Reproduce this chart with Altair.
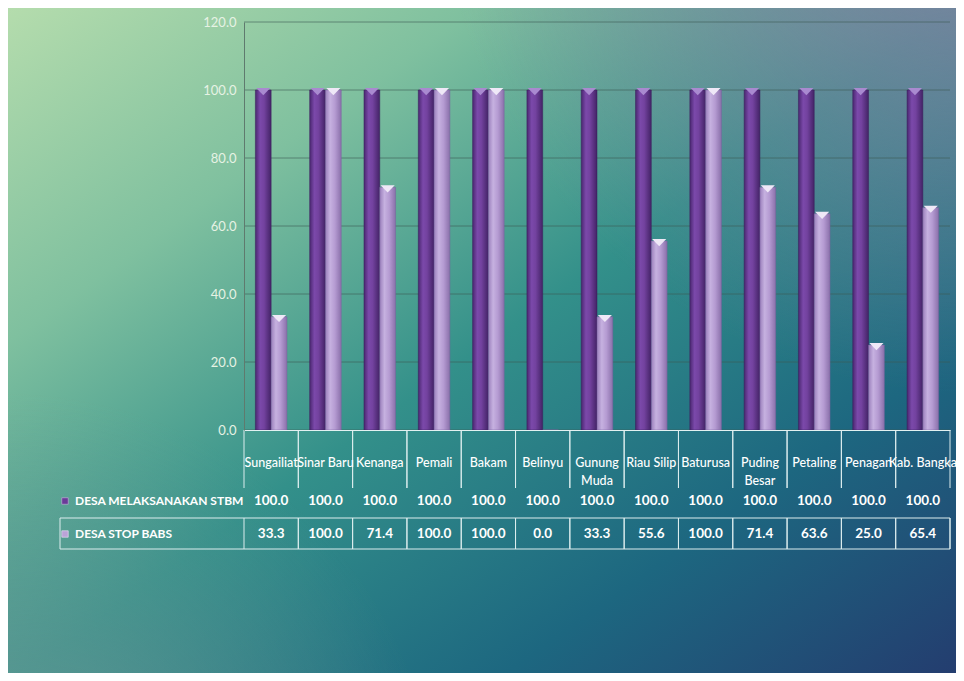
import altair as alt
import pandas as pd

categories = ["Sungailiat", "Sinar Baru", "Kenanga", "Pemali", "Bakam", "Belinyu",
              "Gunung Muda", "Riau Silip", "Baturusa", "Puding Besar", "Petaling",
              "Penagan", "Kab. Bangka"]
cat_labels = ["Sungailiat", "Sinar Baru", "Kenanga", "Pemali", "Bakam", "Belinyu",
              "Gunung\nMuda", "Riau Silip", "Baturusa", "Puding\nBesar", "Petaling",
              "Penagan", "Kab. Bangka"]
series = ["DESA MELAKSANAKAN STBM", "DESA STOP  BABS"]
stbm = [100.0, 100.0, 100.0, 100.0, 100.0, 100.0, 100.0, 100.0, 100.0, 100.0, 100.0, 100.0, 100.0]
stop_babs = [33.3, 100.0, 71.4, 100.0, 100.0, 0.0, 33.3, 55.6, 100.0, 71.4, 63.6, 25.0, 65.4]
y_ticks = [0, 20, 40, 60, 80, 100, 120]

rows = []
for i, c in enumerate(categories):
    rows.append({"cat": c, "label": cat_labels[i], "series": series[0], "value": stbm[i]})
    rows.append({"cat": c, "label": cat_labels[i], "series": series[1], "value": stop_babs[i]})
df = pd.DataFrame(rows)
ser_df = pd.DataFrame({"series": series})
grid_df = pd.DataFrame({"value": y_ticks})
one = pd.DataFrame({"k": [0]})

W, H = 706, 408
xscale = alt.Scale(domain=categories, paddingInner=0, paddingOuter=0)
xaxis = alt.Axis(labels=False, ticks=False, title=None, grid=False, domain=True,
                 domainColor="#e2f1f1", domainWidth=1.2, zindex=1)


def xe(bp=None):
    if bp is None:
        return alt.X("cat:N", scale=xscale, axis=xaxis)
    return alt.X("cat:N", scale=xscale, axis=xaxis, bandPosition=bp)


xoff = alt.XOffset("series:N", scale=alt.Scale(domain=series, paddingInner=0, paddingOuter=0.72))
yscale = alt.Scale(domain=[0, 120])
y_enc = alt.Y("value:Q", scale=yscale, title=None,
              axis=alt.Axis(values=y_ticks, format=".1f", title=None, grid=False, ticks=False,
                            domain=True, domainColor="#5f7a6e", labelColor="#e6f2e4",
                            labelFontSize=13, labelPadding=8, zindex=1))


def stops(lst):
    return [alt.GradientStop(offset=o, color=c) for o, c in lst]


bg_grad = alt.LinearGradient(gradient="linear", x1=0, y1=0, x2=1, y2=1, stops=stops([
    (0.0, "#b6ddad"), (0.25, "#7fc09f"), (0.5, "#33908a"), (0.75, "#1d6780"), (1.0, "#243a6e")]))
tr_grad = alt.RadialGradient(gradient="radial", x1=1, y1=0, r1=0, x2=1, y2=0, r2=0.55, stops=stops([
    (0.0, "rgba(140,128,165,0.95)"), (1.0, "rgba(140,128,165,0)")]))
bl_grad = alt.RadialGradient(gradient="radial", x1=0, y1=1, r1=0, x2=0, y2=1, r2=0.45, stops=stops([
    (0.0, "rgba(115,155,150,0.8)"), (1.0, "rgba(115,155,150,0)")]))

bg_enc = dict(x=alt.value(-240), x2=alt.value(725), y=alt.value(-20), y2=alt.value(665))
bg = alt.Chart(one).mark_rect(fill=bg_grad, strokeWidth=0).encode(**bg_enc)
bg2 = alt.Chart(one).mark_rect(fill=tr_grad, strokeWidth=0).encode(**bg_enc)
bg3 = alt.Chart(one).mark_rect(fill=bl_grad, strokeWidth=0).encode(**bg_enc)

grid = alt.Chart(grid_df).mark_rule(color="#3d5c55", opacity=0.6, strokeWidth=1).encode(
    y=alt.Y("value:Q", scale=yscale, title=None), x=alt.value(0), x2=alt.value(W))

dark_grad = alt.LinearGradient(gradient="linear", x1=0, y1=0, x2=1, y2=0, stops=stops([
    (0.0, "#4a2770"), (0.3, "#7b49aa"), (0.55, "#73429f"), (1.0, "#432366")]))
light_grad = alt.LinearGradient(gradient="linear", x1=0, y1=0, x2=1, y2=0, stops=stops([
    (0.0, "#9b80bc"), (0.3, "#c6b1e0"), (0.6, "#b59bd2"), (1.0, "#8a70aa")]))

s1 = alt.datum.series == series[0]
s2 = alt.datum.series == series[1]

bar1 = alt.Chart(df).transform_filter(s1).mark_bar(fill=dark_grad, stroke="#3a1e5c", strokeWidth=0.5).encode(
    x=xe(), xOffset=xoff, y=y_enc)
bar2 = alt.Chart(df).transform_filter(s2).mark_bar(fill=light_grad, stroke="#7a62a0", strokeWidth=0.5).encode(
    x=xe(), xOffset=xoff, y=alt.Y("value:Q", scale=yscale, title=None))

cap_shape = "M-1,-0.55L1,-0.55L0,0.45Z"
cap1 = alt.Chart(df).transform_filter(s1).mark_point(
    shape=cap_shape, filled=True, size=200, fill="#a98ad0", opacity=1, strokeWidth=0, yOffset=2).encode(
    x=xe(), xOffset=xoff, y=alt.Y("value:Q", scale=yscale, title=None))
cap2 = alt.Chart(df).transform_filter(s2).transform_filter(alt.datum.value > 0).mark_point(
    shape=cap_shape, filled=True, size=200, fill="#efe8f7", opacity=1, strokeWidth=0, yOffset=2).encode(
    x=xe(), xOffset=xoff, y=alt.Y("value:Q", scale=yscale, title=None))

line_col = "#dcedee"
hdr_l = alt.Chart(df).transform_filter(s1).mark_rule(color=line_col, strokeWidth=1).encode(
    x=xe(0), y=alt.value(408), y2=alt.value(466))
hdr_r = alt.Chart(df).transform_filter(s1).mark_rule(color=line_col, strokeWidth=1).encode(
    x=xe(1), y=alt.value(408), y2=alt.value(466))
hdr_txt = alt.Chart(df).transform_filter(s1).mark_text(
    lineBreak="\n", color="white", fontSize=12.5, lineHeight=18, baseline="middle", fontWeight=500).encode(
    x=xe(), y=alt.value(441), text="label:N")

row1_txt = alt.Chart(df).transform_filter(s1).mark_text(
    color="white", fontSize=13.5, fontWeight="bold", baseline="middle").encode(
    x=xe(), y=alt.value(479), text=alt.Text("value:Q", format=".1f"))
row2_txt = alt.Chart(df).transform_filter(s2).mark_text(
    color="white", fontSize=13.5, fontWeight="bold", baseline="middle").encode(
    x=xe(), y=alt.value(512), text=alt.Text("value:Q", format=".1f"))

row2_l = alt.Chart(df).transform_filter(s2).mark_rule(color=line_col, strokeWidth=1).encode(
    x=xe(0), y=alt.value(496), y2=alt.value(527))
row2_r = alt.Chart(df).transform_filter(s2).mark_rule(color=line_col, strokeWidth=1).encode(
    x=xe(1), y=alt.value(496), y2=alt.value(527))
row2_box = alt.Chart(one).mark_rect(fill="transparent", stroke=line_col, strokeWidth=1).encode(
    x=alt.value(-184), x2=alt.value(W), y=alt.value(496), y2=alt.value(527))

leg1_m = alt.Chart(ser_df).transform_filter(s1).mark_point(
    shape="square", filled=True, size=42, fill="#6a3b98", stroke="#c9b8e0", strokeWidth=0.6, opacity=1).encode(
    x=alt.value(-179), y=alt.value(479))
leg2_m = alt.Chart(ser_df).transform_filter(s2).mark_point(
    shape="square", filled=True, size=42, fill="#bba3d8", stroke="#ece4f5", strokeWidth=0.6, opacity=1).encode(
    x=alt.value(-179), y=alt.value(512))
leg1_t = alt.Chart(ser_df).transform_filter(s1).mark_text(
    align="left", baseline="middle", color="white", fontSize=12, fontWeight="bold").encode(
    x=alt.value(-169), y=alt.value(479), text="series:N")
leg2_t = alt.Chart(ser_df).transform_filter(s2).mark_text(
    align="left", baseline="middle", color="white", fontSize=12, fontWeight="bold").encode(
    x=alt.value(-169), y=alt.value(512), text="series:N")

chart = alt.layer(
    bg, bg2, bg3, grid, bar1, bar2, cap1, cap2,
    hdr_l, hdr_r, hdr_txt, row1_txt, row2_txt, row2_l, row2_r, row2_box,
    leg1_m, leg2_m, leg1_t, leg2_t
).properties(
    width=W, height=H,
    padding={"left": 236, "top": 14, "right": 6, "bottom": 243},
    autosize=alt.AutoSizeParams(type="none"),
).configure_view(stroke=None).configure(font="Lato")

chart.save("out.html", embed_options={"renderer": "svg", "actions": False})
